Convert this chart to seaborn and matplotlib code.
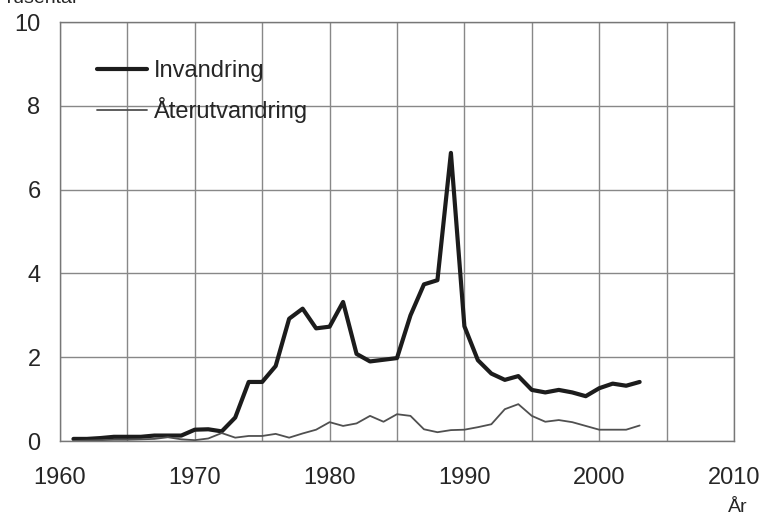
import matplotlib
matplotlib.use("Agg")
import matplotlib.pyplot as plt
import seaborn as sns
import pandas as pd

# Invandring och återutvandring, tusental, 1961-2003 (avläst från förlagan)
years = list(range(1961, 2004))
invandring = [0.05, 0.05, 0.07, 0.10, 0.10, 0.10, 0.13, 0.13, 0.13, 0.27,
              0.28, 0.23, 0.56, 1.41, 1.41, 1.79, 2.92, 3.16, 2.69, 2.73,
              3.32, 2.08, 1.90, 1.94, 1.98, 3.00, 3.74, 3.84, 6.88, 2.74,
              1.93, 1.61, 1.46, 1.55, 1.22, 1.16, 1.22, 1.16, 1.07, 1.26,
              1.37, 1.32, 1.41]
aterutvandring = [0.00, 0.01, 0.02, 0.03, 0.03, 0.04, 0.05, 0.09, 0.04, 0.02,
                  0.06, 0.19, 0.08, 0.12, 0.12, 0.17, 0.08, 0.18, 0.27, 0.45,
                  0.36, 0.42, 0.60, 0.46, 0.64, 0.60, 0.28, 0.21, 0.26, 0.27,
                  0.33, 0.40, 0.76, 0.88, 0.60, 0.46, 0.50, 0.45, 0.36, 0.27,
                  0.27, 0.27, 0.37]

df = pd.DataFrame({"År": years, "Invandring": invandring, "Återutvandring": aterutvandring})

sns.set_style("white")
plt.rcParams["font.family"] = ["Liberation Sans", "DejaVu Sans"]

fig = plt.figure(figsize=(7.63, 5.17), dpi=100)
ax = fig.add_axes([0.0786, 0.147, 0.962 - 0.0786, 0.957 - 0.147])

sns.lineplot(data=df, x="År", y="Invandring", ax=ax, color="#1c1c1c", linewidth=3.0, label="Invandring")
sns.lineplot(data=df, x="År", y="Återutvandring", ax=ax, color="#505050", linewidth=1.3, label="Återutvandring")

ax.set_xlim(1960, 2010)
ax.set_ylim(0, 10)
ax.set_xticks(range(1960, 2011, 5))
ax.set_xticklabels([str(y) if y % 10 == 0 else "" for y in range(1960, 2011, 5)])
ax.set_yticks(range(0, 11, 2))
ax.grid(True, color="#888888", linewidth=1.0)
ax.set_axisbelow(True)
for s in ax.spines.values():
    s.set_color("#777777")
    s.set_linewidth(1.0)
ax.tick_params(axis="y", length=6, width=1, color="#777777", pad=8, labelsize=17)
ax.tick_params(axis="x", length=0, pad=19, labelsize=17)
ax.set_xlabel("")
ax.set_ylabel("")

ax.legend(loc="upper left", bbox_to_anchor=(0.055, 0.91), frameon=False, fontsize=17,
          handlelength=2.1, handletextpad=0.3, labelspacing=0.65, borderpad=0, borderaxespad=0)

fig.text(0.003, 0.994, "Tusental", fontsize=14, va="baseline", ha="left")
fig.text(0.967, 0.019, "År", fontsize=14, va="center", ha="center")

fig.savefig("out.png", dpi=100)
